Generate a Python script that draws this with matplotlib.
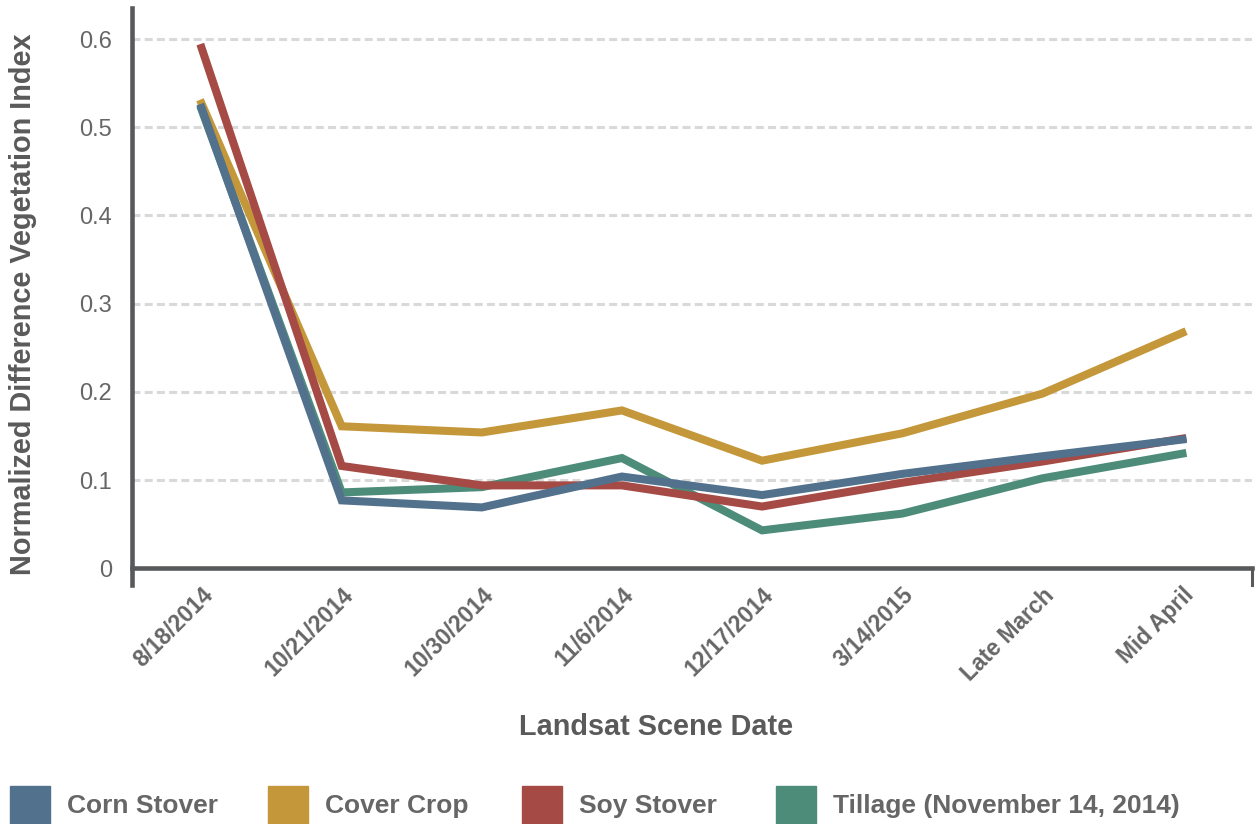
import matplotlib.pyplot as plt
from matplotlib.patches import Rectangle

dates = ['8/18/2014', '10/21/2014', '10/30/2014', '11/6/2014',
         '12/17/2014', '3/14/2015', 'Late March', 'Mid April']

corn_stover = [0.522, 0.077, 0.069, 0.104, 0.083, 0.107, 0.127, 0.146]
cover_crop = [0.527, 0.161, 0.154, 0.179, 0.122, 0.153, 0.198, 0.267]
soy_stover = [0.590, 0.116, 0.094, 0.094, 0.070, 0.097, 0.121, 0.147]
tillage = [0.520, 0.086, 0.092, 0.125, 0.043, 0.062, 0.102, 0.130]

names = ['Corn Stover', 'Cover Crop', 'Soy Stover', 'Tillage (November 14, 2014)']
colors = ['#52718c', '#c4983a', '#a64a45', '#4e8c7a']
series = [corn_stover, cover_crop, soy_stover, tillage]
zorders = [5, 3, 4, 2]

plt.rcParams['font.family'] = ['Liberation Sans', 'DejaVu Sans']
text_col = '#666666'
axis_col = '#58595b'

fig = plt.figure(figsize=(12.55, 8.24), dpi=100)
ax = fig.add_axes([0.1048, 0.29, 0.8932, 0.70])

# spines first: set_position resets the tick setup
ax.spines['top'].set_visible(False)
ax.spines['left'].set_color(axis_col)
ax.spines['left'].set_linewidth(3.3)
ax.spines['bottom'].set_color(axis_col)
ax.spines['bottom'].set_linewidth(3.3)
ax.spines['bottom'].set_position(('data', 0))
ax.spines['right'].set_color(axis_col)
ax.spines['right'].set_linewidth(2.2)
ax.spines['right'].set_bounds(-0.019, 0)

x = list(range(len(dates)))
for vals, col, z in zip(series, colors, zorders):
    ax.plot(x, vals, color=col, lw=5.8, zorder=z, solid_joinstyle='miter')

ax.set_xlim(-0.5, 7.5)
ax.set_ylim(-0.019, 0.635)

ax.set_yticks([0, 0.1, 0.2, 0.3, 0.4, 0.5, 0.6])
ax.set_yticklabels(['0', '0.1', '0.2', '0.3', '0.4', '0.5', '0.6'])
for yv in [0.1, 0.2, 0.3, 0.4, 0.5, 0.6]:
    ax.axhline(yv, color='#d9d9d9', lw=2.2, dashes=(2.6, 1.4), zorder=1)

ax.set_xticks(x)
ax.set_xticklabels(dates, rotation=45, ha='right', rotation_mode='anchor',
                   fontsize=16.5, fontweight='bold', color=text_col)
ax.tick_params(axis='x', length=0, pad=11)
ax.tick_params(axis='y', length=0, pad=14, labelsize=17, labelcolor=text_col)

fig.text(23 / 1255, 1 - 304 / 824, 'Normalized Difference Vegetation Index',
         rotation=90, ha='center', va='center', fontsize=20.8,
         fontweight='bold', color='#5a5a5a')
fig.text(0.5228, 1 - 727 / 824, 'Landsat Scene Date', ha='center', va='center',
         fontsize=20.8, fontweight='bold', color='#5a5a5a')

# legend along the bottom edge
rect_x = [10, 268, 522, 776]
for rx, name, col in zip(rect_x, names, colors):
    fig.patches.append(Rectangle((rx / 1255, 0), 40 / 1255, 38 / 824,
                                 transform=fig.transFigure, color=col))
    fig.text((rx + 57) / 1255, 1 - 806 / 824, name, ha='left', va='center',
             fontsize=19, fontweight='bold', color=text_col)

fig.savefig('out.png', dpi=100)
